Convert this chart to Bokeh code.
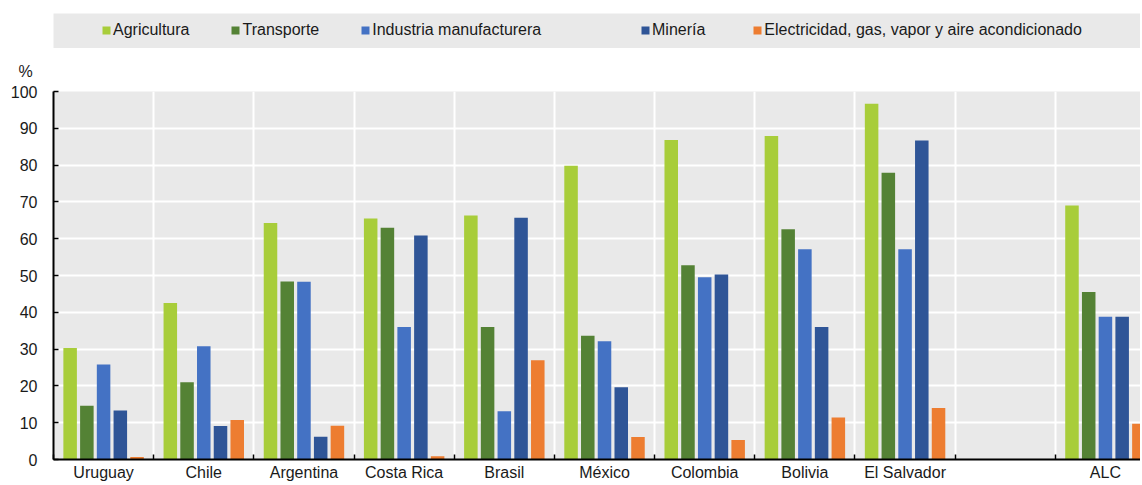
from bokeh.plotting import figure
from bokeh.layouts import column
from bokeh.models import (ColumnDataSource, Range1d, FixedTicker, Legend, LegendItem, Title)
from bokeh.embed import file_html
from bokeh.resources import INLINE

categories = ["Uruguay", "Chile", "Argentina", "Costa Rica", "Brasil", "México",
              "Colombia", "Bolivia", "El Salvador", "", "ALC"]
countries = ["Uruguay", "Chile", "Argentina", "Costa Rica", "Brasil", "México",
             "Colombia", "Bolivia", "El Salvador", "ALC"]
series_names = ["Agricultura", "Transporte", "Industria manufacturera", "Minería",
                "Electricidad, gas, vapor y aire acondicionado"]
agricultura = [30.3, 42.5, 64.3, 65.5, 66.3, 79.8, 86.8, 87.9, 96.7, 69.0]
transporte = [14.6, 21.0, 48.4, 63.0, 36.0, 33.6, 52.8, 62.6, 77.9, 45.5]
industria = [25.8, 30.8, 48.3, 36.0, 13.1, 32.1, 49.5, 57.1, 57.1, 38.8]
mineria = [13.3, 9.1, 6.2, 60.9, 65.7, 19.6, 50.3, 36.0, 86.7, 38.8]
electricidad = [0.7, 10.7, 9.2, 0.9, 27.0, 6.1, 5.3, 11.4, 14.0, 9.7]
y_ticks = [0, 10, 20, 30, 40, 50, 60, 70, 80, 90, 100]

colors = ["#A8CD3A", "#548235", "#4472C4", "#2F5597", "#ED7D31"]
FONT = "Liberation Sans"
FS = "16px"
TXT = "#1a1a1a"
BG = "#E9E9E9"

series = [agricultura, transporte, industria, mineria, electricidad]
ncat = len(categories)
xpos = [categories.index(c) + 0.5 for c in countries]
offsets = [-2, -1, 0, 1, 2]
step = 0.167
sources = [ColumnDataSource(dict(x=[x + off * step for x in xpos], top=s))
           for s, off in zip(series, offsets)]

W = 1140

# ---------- legend strip ----------
leg = figure(width=W, height=48, output_backend="svg", toolbar_location=None,
             x_axis_type=None, y_axis_type=None,
             x_range=Range1d(-100, -99), y_range=Range1d(-100, -99),
             min_border_left=53, min_border_right=0, min_border_top=13, min_border_bottom=0)
leg.background_fill_color = BG
leg.outline_line_color = None
leg.grid.visible = False
leg_renderers = [leg.vbar(x="x", top="top", width=0.135, source=src, fill_color=col, line_color=None)
                 for src, col in zip(sources, colors)]

def make_legend(idx, loc, spacing):
    lg = Legend(items=[LegendItem(label=series_names[i], renderers=[leg_renderers[i]]) for i in idx],
                orientation="horizontal", location=loc, padding=0, margin=0, spacing=spacing,
                glyph_width=10, glyph_height=10, label_standoff=2,
                label_text_font=FONT, label_text_font_size=FS, label_text_color=TXT,
                background_fill_alpha=0, border_line_color=None, label_height=10)
    leg.add_layout(lg, "center")

make_legend([0, 1, 2], (48, 9), 41)
make_legend([3, 4], (587, 9), 47)

# ---------- main chart ----------
p = figure(width=W, height=435, output_backend="svg", toolbar_location=None,
           x_range=Range1d(0, 10.85), y_range=Range1d(0, 100),
           min_border_left=50, min_border_right=0, min_border_top=42, min_border_bottom=20)
p.background_fill_color = BG
p.outline_line_color = None

for src, col in zip(sources, colors):
    p.vbar(x="x", top="top", width=0.135, source=src, fill_color=col, line_color=None)

centers = [i + 0.5 for i in range(ncat)]
bounds = list(range(ncat + 1))
p.xaxis.ticker = FixedTicker(ticks=centers, minor_ticks=bounds)
p.xaxis.major_label_overrides = {c: lab for c, lab in zip(centers, categories)}
p.xaxis.major_tick_line_color = None
p.xaxis.major_tick_in = 0
p.xaxis.major_tick_out = 0
p.xaxis.minor_tick_in = 5
p.xaxis.minor_tick_out = 0
p.xaxis.minor_tick_line_color = "black"
p.xaxis.minor_tick_line_width = 1.5
p.xaxis.axis_line_width = 2
p.xaxis.axis_line_color = "black"
p.xaxis.major_label_standoff = 4

p.yaxis.ticker = FixedTicker(ticks=y_ticks)
p.yaxis.major_tick_in = 5
p.yaxis.major_tick_out = 0
p.yaxis.major_tick_line_width = 1.5
p.yaxis.minor_tick_line_color = None
p.yaxis.axis_line_width = 2
p.yaxis.axis_line_color = "black"
p.yaxis.major_label_standoff = 16

for ax in (p.xaxis, p.yaxis):
    ax.major_label_text_font = FONT
    ax.major_label_text_font_size = FS
    ax.major_label_text_color = TXT

p.xgrid.ticker = FixedTicker(ticks=bounds)
p.xgrid.grid_line_color = "white"
p.xgrid.grid_line_width = 2
p.ygrid.grid_line_color = "white"
p.ygrid.grid_line_width = 2

p.add_layout(Title(text="%", align="left", offset=-35, standoff=24,
                   text_font=FONT, text_font_size=FS, text_font_style="normal",
                   text_color=TXT), "above")

layout = column(leg, p, spacing=0)
open("out.html", "w").write(file_html(layout, INLINE))
